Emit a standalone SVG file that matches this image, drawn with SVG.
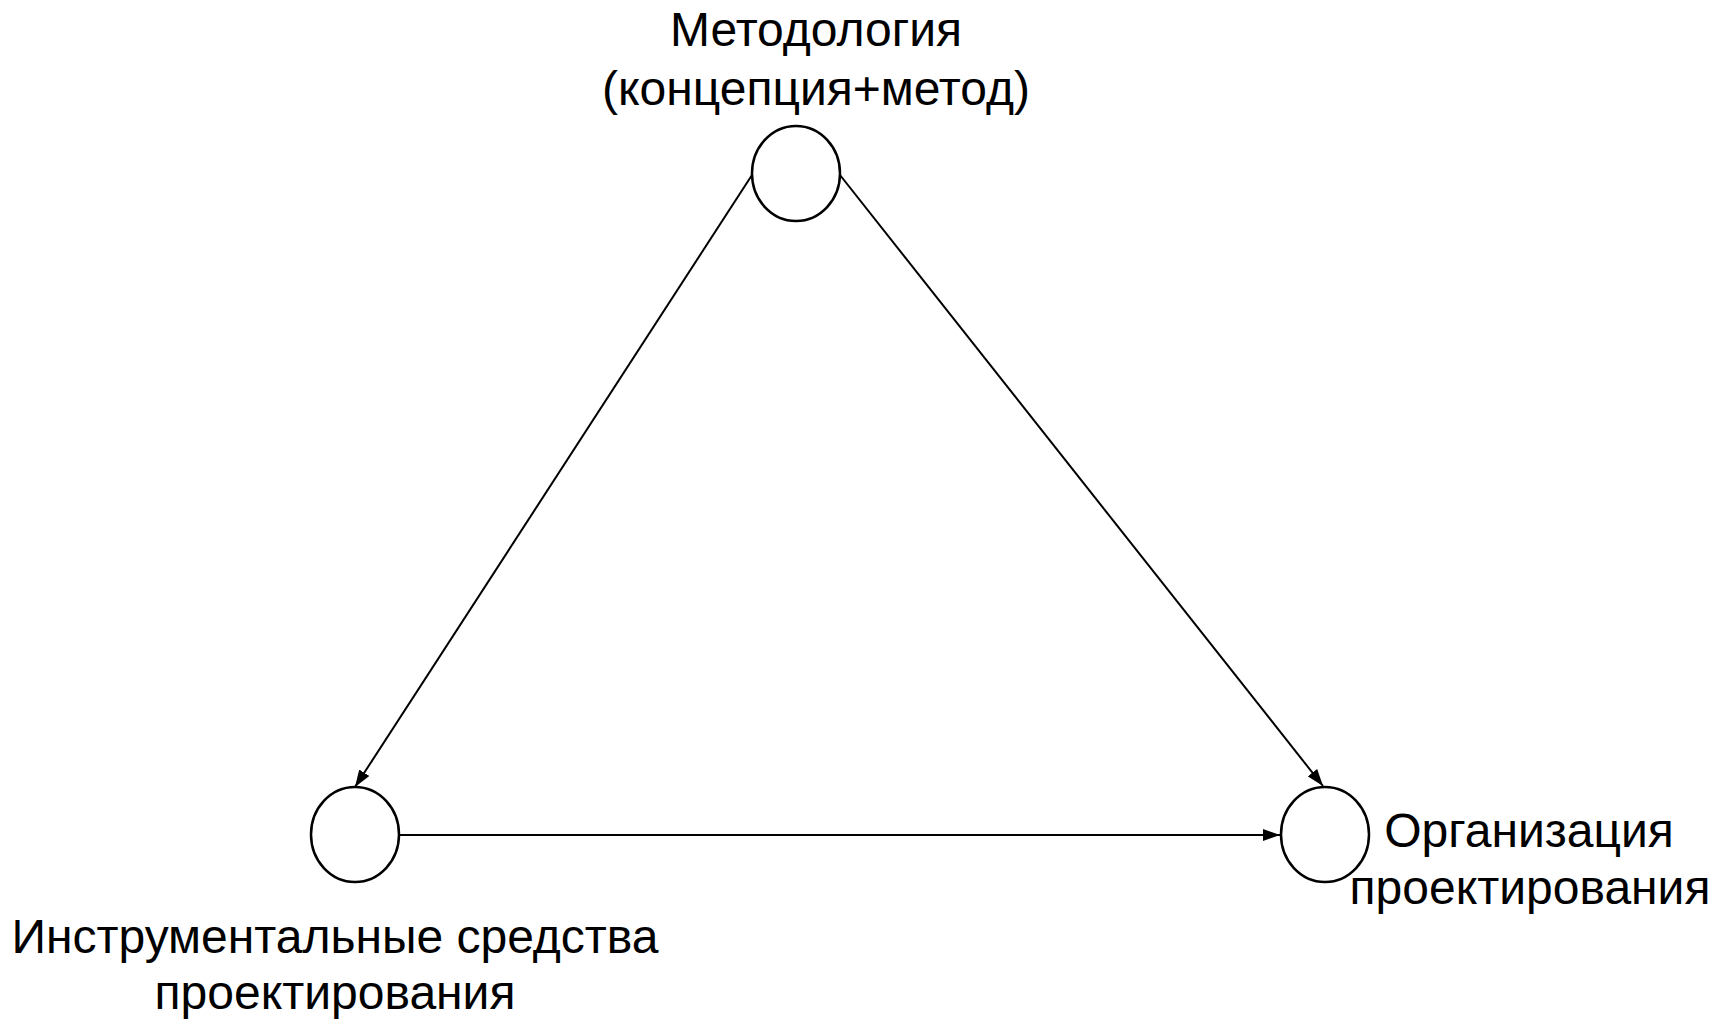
<svg xmlns="http://www.w3.org/2000/svg" width="1725" height="1019" viewBox="0 0 1725 1019">
<style>
.node{fill:#fff;stroke:#000;stroke-width:2.5}
.edge{stroke:#000;stroke-width:2;fill:none}
text{font-family:"Liberation Sans",Arial,sans-serif;font-size:48px;fill:#000;text-anchor:middle}
</style>
<defs>
<marker id="arr" markerUnits="userSpaceOnUse" markerWidth="18" markerHeight="12" refX="17" refY="6" orient="auto">
<path d="M0,0 L17,6 L0,12 z" fill="#000"/>
</marker>
</defs>
<g id="edges">
<line class="edge" x1="752" y1="175" x2="355" y2="787" marker-end="url(#arr)"/>
<line class="edge" x1="840" y1="175" x2="1323" y2="786" marker-end="url(#arr)"/>
<line class="edge" x1="399" y1="835" x2="1280" y2="835" marker-end="url(#arr)"/>
</g>
<g id="node-method">
<ellipse class="node" cx="796" cy="173.5" rx="44" ry="47.5"/>
<text x="816" y="46">Методология</text>
<text x="816" y="105">(концепция+метод)</text>
</g>
<g id="node-tools">
<ellipse class="node" cx="355" cy="834.5" rx="44" ry="47.5"/>
<text x="335" y="953">Инструментальные средства</text>
<text x="335" y="1009">проектирования</text>
</g>
<g id="node-org">
<ellipse class="node" cx="1325" cy="834.5" rx="44" ry="47.5"/>
<text x="1529" y="847">Организация</text>
<text x="1530" y="904">проектирования</text>
</g>
</svg>
